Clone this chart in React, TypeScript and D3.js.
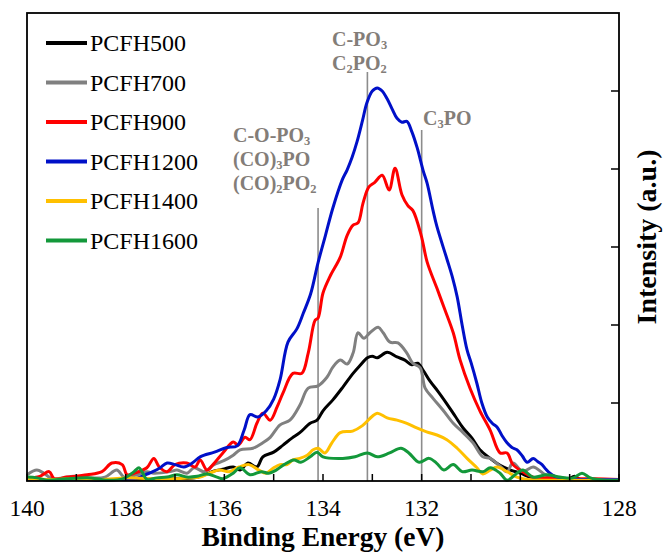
import React from 'react';
import * as d3 from 'd3';

type Pt = [number, number];

const xTickLabels = [140, 138, 136, 134, 132, 130, 128];
const xMinorTicks = [140, 139, 138, 137, 136, 135, 134, 133, 132, 131, 130, 129, 128];
const yTicks = [1, 2, 3, 4, 5];
const seriesNames = ['PCFH500', 'PCFH700', 'PCFH900', 'PCFH1200', 'PCFH1400', 'PCFH1600'];
const seriesColors = ['#000000', '#808080', '#ff0000', '#0010c8', '#ffc000', '#13983a'];
const refEnergies = [134.1, 133.1, 132.0];

const pcfh500: Pt[] = [
  [140.0, 0.02], [139.0, 0.02], [138.0, 0.02], [137.0, 0.03], [136.6, 0.04], [136.4, 0.08],
  [136.2, 0.13], [136.03, 0.15], [135.82, 0.18], [135.68, 0.14], [135.52, 0.23], [135.34, 0.18],
  [135.22, 0.31], [135.0, 0.37], [134.81, 0.46], [134.63, 0.55], [134.47, 0.62], [134.26, 0.74],
  [134.12, 0.78], [134.0, 0.9], [133.8, 1.04], [133.59, 1.21], [133.39, 1.38], [133.25, 1.48],
  [133.1, 1.58], [133.0, 1.6], [132.9, 1.58], [132.7, 1.65], [132.5, 1.59], [132.34, 1.55],
  [132.2, 1.49], [132.08, 1.51], [131.97, 1.42], [131.83, 1.28], [131.67, 1.15], [131.49, 0.99],
  [131.32, 0.83], [131.16, 0.68], [130.98, 0.55], [130.82, 0.4], [130.61, 0.29], [130.41, 0.2],
  [130.2, 0.14], [130.0, 0.1], [129.8, 0.05], [129.6, 0.04], [129.4, 0.02], [129.05, 0.02],
  [128.9, 0.06], [128.78, 0.02], [128.0, 0.01],
];

const pcfh700: Pt[] = [
  [140.0, 0.08], [139.8, 0.14], [139.66, 0.1], [139.49, 0.03], [139.29, 0.04], [139.05, 0.06],
  [138.72, 0.04], [138.42, 0.05], [138.18, 0.14], [138.03, 0.05], [137.77, 0.08], [137.57, 0.12],
  [137.43, 0.1], [137.1, 0.12], [136.96, 0.14], [136.76, 0.1], [136.61, 0.17], [136.41, 0.12],
  [136.21, 0.21], [136.01, 0.26], [135.82, 0.33], [135.68, 0.4], [135.42, 0.42], [135.22, 0.49],
  [135.07, 0.56], [134.87, 0.72], [134.67, 0.78], [134.47, 0.97], [134.3, 1.19], [134.1, 1.22],
  [133.92, 1.33], [133.8, 1.46], [133.65, 1.55], [133.51, 1.5], [133.39, 1.64], [133.29, 1.9],
  [133.17, 1.83], [133.05, 1.9], [132.88, 1.97], [132.78, 1.9], [132.64, 1.78], [132.48, 1.77],
  [132.3, 1.64], [132.18, 1.51], [132.03, 1.45], [131.93, 1.19], [131.77, 1.06], [131.57, 0.91],
  [131.36, 0.74], [131.16, 0.62], [130.96, 0.49], [130.76, 0.31], [130.61, 0.29], [130.41, 0.19],
  [130.27, 0.12], [130.15, 0.23], [129.95, 0.12], [129.74, 0.18], [129.54, 0.1], [129.34, 0.04],
  [129.0, 0.02], [128.0, 0.02],
];

const pcfh900: Pt[] = [
  [140.0, 0.04], [139.74, 0.06], [139.55, 0.12], [139.45, 0.03], [139.19, 0.05], [138.78, 0.08],
  [138.48, 0.12], [138.28, 0.23], [138.07, 0.21], [137.97, 0.08], [137.83, 0.1], [137.57, 0.17],
  [137.43, 0.29], [137.32, 0.18], [137.16, 0.12], [137.0, 0.21], [136.76, 0.23], [136.59, 0.18],
  [136.49, 0.27], [136.35, 0.14], [136.23, 0.21], [136.03, 0.36], [135.82, 0.5], [135.72, 0.46],
  [135.58, 0.56], [135.48, 0.53], [135.34, 0.74], [135.22, 0.87], [135.07, 0.78], [134.93, 0.95],
  [134.81, 1.13], [134.61, 1.38], [134.43, 1.38], [134.3, 1.64], [134.16, 2.06], [134.1, 2.09],
  [134.0, 2.41], [133.86, 2.62], [133.65, 2.87], [133.51, 3.15], [133.39, 3.28], [133.29, 3.31],
  [133.19, 3.56], [133.07, 3.77], [132.95, 3.83], [132.8, 3.92], [132.66, 3.73], [132.54, 4.01],
  [132.4, 3.67], [132.28, 3.53], [132.18, 3.47], [132.01, 3.15], [131.89, 2.81], [131.69, 2.47],
  [131.55, 2.23], [131.36, 1.9], [131.22, 1.55], [131.02, 1.19], [130.82, 0.9], [130.61, 0.65],
  [130.41, 0.36], [130.27, 0.36], [130.15, 0.21], [129.95, 0.12], [129.74, 0.05], [129.4, 0.04],
  [129.0, 0.03], [128.5, 0.03], [128.0, 0.02],
];

const pcfh1200: Pt[] = [
  [140.0, 0.02], [139.7, 0.02], [139.4, 0.01], [139.0, 0.02], [138.6, 0.01], [138.2, 0.02],
  [137.9, 0.02], [137.75, 0.04], [137.6, 0.08], [137.45, 0.12], [137.3, 0.17], [137.16, 0.23],
  [137.0, 0.21], [136.82, 0.18], [136.65, 0.23], [136.49, 0.31], [136.2, 0.37], [135.95, 0.43],
  [135.74, 0.45], [135.6, 0.65], [135.48, 0.85], [135.32, 0.82], [135.15, 0.9], [135.0, 1.05],
  [134.87, 1.3], [134.71, 1.78], [134.53, 1.95], [134.4, 2.15], [134.25, 2.4], [134.1, 2.8],
  [133.95, 3.15], [133.8, 3.5], [133.61, 3.86], [133.51, 3.99], [133.41, 4.15], [133.31, 4.35],
  [133.2, 4.62], [133.11, 4.85], [133.0, 5.0], [132.9, 5.04], [132.8, 5.0], [132.7, 4.9],
  [132.6, 4.77], [132.5, 4.65], [132.4, 4.6], [132.3, 4.61], [132.2, 4.48], [132.09, 4.27],
  [131.97, 3.98], [131.89, 3.82], [131.77, 3.47], [131.69, 3.26], [131.49, 2.85], [131.38, 2.62],
  [131.28, 2.36], [131.18, 2.0], [131.08, 1.68], [131.0, 1.52], [130.88, 1.25], [130.78, 1.0],
  [130.67, 0.82], [130.57, 0.74], [130.47, 0.69], [130.37, 0.58], [130.27, 0.49], [130.17, 0.43],
  [130.07, 0.4], [129.96, 0.32], [129.86, 0.24], [129.74, 0.29], [129.65, 0.25], [129.56, 0.21],
  [129.48, 0.15], [129.4, 0.1], [129.3, 0.06], [129.2, 0.04], [129.0, 0.02], [128.6, 0.02],
  [128.0, 0.02],
];

const pcfh1400: Pt[] = [
  [140.0, 0.03], [139.5, 0.02], [139.0, 0.03], [138.5, 0.02], [138.0, 0.04], [137.5, 0.03],
  [137.0, 0.03], [136.7, 0.04], [136.49, 0.05], [136.3, 0.1], [136.1, 0.14], [135.9, 0.12],
  [135.7, 0.18], [135.5, 0.21], [135.3, 0.14], [135.16, 0.1], [135.0, 0.17], [134.87, 0.21],
  [134.73, 0.21], [134.61, 0.27], [134.47, 0.29], [134.32, 0.33], [134.2, 0.4], [134.1, 0.42],
  [133.96, 0.36], [133.82, 0.49], [133.65, 0.62], [133.4, 0.64], [133.2, 0.71], [133.0, 0.83],
  [132.9, 0.87], [132.7, 0.81], [132.5, 0.78], [132.3, 0.74], [132.1, 0.68], [131.9, 0.63],
  [131.69, 0.59], [131.49, 0.53], [131.28, 0.42], [131.08, 0.29], [130.88, 0.17], [130.76, 0.09],
  [130.61, 0.14], [130.47, 0.18], [130.27, 0.12], [130.07, 0.05], [129.86, 0.02], [129.4, 0.01],
  [128.0, 0.01],
];

const pcfh1600: Pt[] = [
  [140.0, 0.05], [139.8, 0.04], [139.6, 0.01], [139.2, 0.03], [138.7, 0.04], [138.4, 0.01],
  [138.05, 0.03], [137.83, 0.12], [137.73, 0.17], [137.67, 0.12], [137.57, 0.02], [137.37, 0.04],
  [137.16, 0.05], [136.96, 0.08], [136.76, 0.05], [136.55, 0.06], [136.35, 0.09], [136.15, 0.05],
  [136.03, 0.03], [135.82, 0.1], [135.68, 0.17], [135.48, 0.08], [135.25, 0.12], [135.1, 0.1],
  [134.95, 0.14], [134.79, 0.21], [134.59, 0.27], [134.45, 0.24], [134.26, 0.31], [134.12, 0.37],
  [134.0, 0.31], [133.6, 0.29], [133.35, 0.31], [133.1, 0.36], [132.9, 0.31], [132.65, 0.36],
  [132.42, 0.42], [132.26, 0.36], [132.05, 0.24], [131.85, 0.29], [131.7, 0.23], [131.55, 0.14],
  [131.36, 0.21], [131.18, 0.12], [130.98, 0.14], [130.75, 0.12], [130.61, 0.17], [130.41, 0.1],
  [130.27, 0.01], [130.07, 0.1], [129.95, 0.14], [129.74, 0.05], [129.46, 0.08], [129.2, 0.05],
  [128.93, 0.04], [128.75, 0.1], [128.58, 0.04], [128.3, 0.01], [128.0, 0.01],
];

const allSeries = [pcfh500, pcfh700, pcfh900, pcfh1200, pcfh1400, pcfh1600];

const W = 670;
const H = 553;
const L = 27, R = 619, T = 13, B = 481;
const refTops = [208, 72, 130];

const serif = "'Liberation Serif'";
const annoColor = '#837d78';

export default function App() {
  const x = d3.scaleLinear().domain([140, 128]).range([L, R]);
  const y = d3.scaleLinear().domain([0, 6]).range([B, T]);
  const line = d3
    .line<Pt>()
    .x((d) => x(d[0]))
    .y((d) => y(d[1]))
    .curve(d3.curveCatmullRom.alpha(0.5));

  const sub = (t: string) => (
    <tspan style={{ fontSize: '12.5px' }} dy={3}>{t}</tspan>
  );
  const up = (t: string) => <tspan dy={-3}>{t}</tspan>;
  const ts = (size: number, bold = false): React.CSSProperties => ({
    fontFamily: serif,
    fontSize: `${size}px`,
    fontWeight: bold ? 'bold' : 'normal',
  });

  return (
    <svg
      width={W}
      height={H}
      style={{ position: 'absolute', left: 0, top: 0, background: '#fff', fontFamily: serif }}
    >
      <rect x={0} y={0} width={W} height={H} fill="#fff" />
      {refEnergies.map((e, i) => (
        <line key={i} x1={x(e)} x2={x(e)} y1={refTops[i]} y2={B} stroke="#8c8c8c" strokeWidth={1.6} />
      ))}
      {allSeries.map((s, i) => (
        <path key={i} d={line(s) || ''} fill="none" stroke={seriesColors[i]} strokeWidth={3} strokeLinejoin="round" />
      ))}
      <rect x={L} y={T} width={R - L} height={B - T} fill="none" stroke="#000" strokeWidth={1.8} />
      {xMinorTicks.map((t) => (
        <line key={t} x1={x(t)} x2={x(t)} y1={B} y2={B - 7} stroke="#000" strokeWidth={1.5} />
      ))}
      {yTicks.map((t) => (
        <line key={t} x1={R} x2={R - 8} y1={y(t)} y2={y(t)} stroke="#000" strokeWidth={1.5} />
      ))}
      {xTickLabels.map((t) => (
        <text key={t} x={x(t)} y={516} textAnchor="middle" style={ts(23.5)} fill="#000">{t}</text>
      ))}
      <text x={(L + R) / 2} y={546} textAnchor="middle" style={ts(27.5, true)} fill="#000">
        Binding Energy (eV)
      </text>
      <text
        transform={`translate(656, 237) rotate(-90)`}
        textAnchor="middle"
        style={ts(28, true)}
        fill="#000"
      >
        Intensity (a.u.)
      </text>
      {seriesNames.map((n, i) => {
        const cy = 43 + i * 39.5;
        return (
          <g key={n}>
            <line x1={46} x2={87} y1={cy} y2={cy} stroke={seriesColors[i]} strokeWidth={4} />
            <text x={90} y={cy + 8} style={ts(24)} fill="#000">{n}</text>
          </g>
        );
      })}
      <g fill={annoColor} style={ts(20, true)}>
        <text x={233} y={142}>C-O-PO{sub('3')}</text>
        <text x={233} y={166}>(CO){sub('3')}{up('PO')}</text>
        <text x={233} y={190}>(CO){sub('2')}{up('PO')}{sub('2')}</text>
        <text x={332} y={46}>C-PO{sub('3')}</text>
        <text x={332} y={70}>C{sub('2')}{up('PO')}{sub('2')}</text>
        <text x={423} y={125}>C{sub('3')}{up('PO')}</text>
      </g>
    </svg>
  );
}
